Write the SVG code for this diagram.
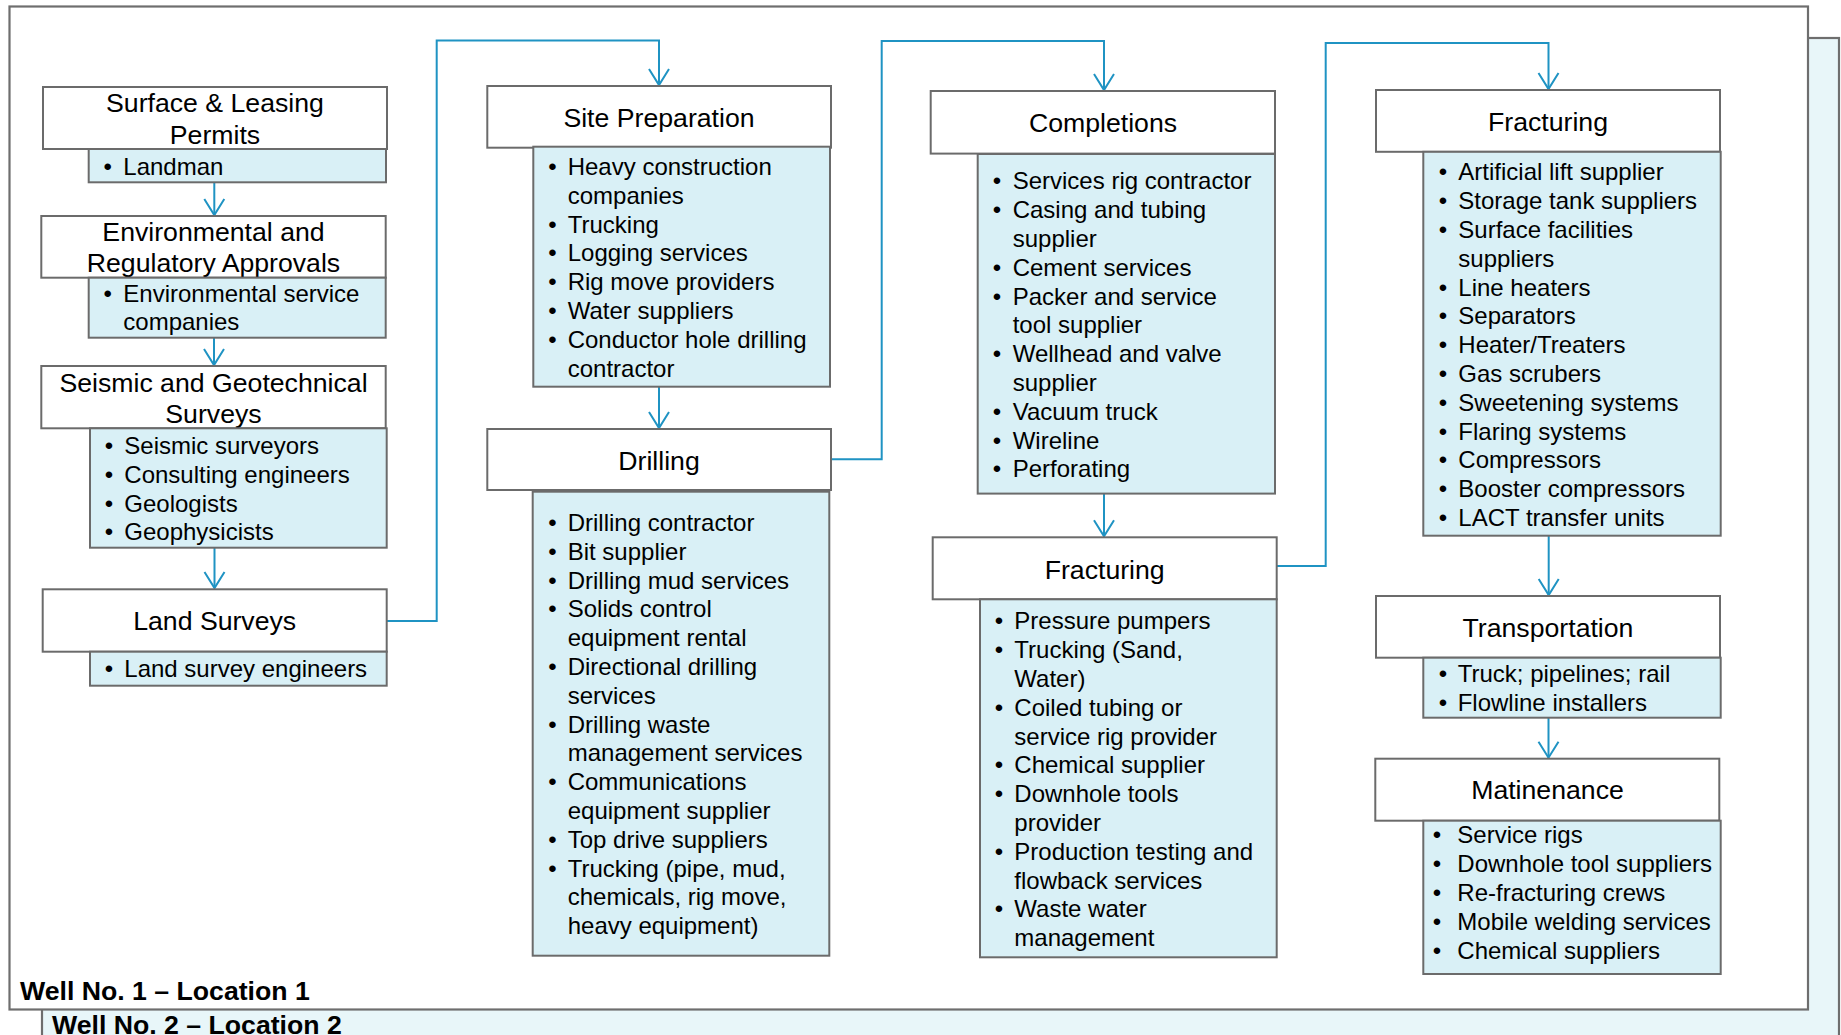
<svg xmlns="http://www.w3.org/2000/svg" width="1841" height="1035" viewBox="0 0 1841 1035">
<style>
.frame{stroke:#6e6e6e;stroke-width:2.2}
.title{fill:#ffffff;stroke:#6b6b6b;stroke-width:2}
.list{fill:#d9f0f6;stroke:#6b6b6b;stroke-width:2}
.tt{font-family:"Liberation Sans",Arial,sans-serif;font-size:26.67px;fill:#000;text-anchor:middle}
.bt{font-family:"Liberation Sans",Arial,sans-serif;font-size:24px;fill:#000}
.well{font-family:"Liberation Sans",Arial,sans-serif;font-size:26.67px;font-weight:bold;fill:#000}
.conn{fill:none;stroke:#1f93c3;stroke-width:2}
</style>
<defs>
<marker id="arr" viewBox="-18 -12 20 24" markerWidth="20" markerHeight="24" refX="0" refY="0" orient="auto" markerUnits="userSpaceOnUse">
<path d="M-16,-10 L0,0 L-16,10" fill="none" stroke="#1f93c3" stroke-width="2"/>
</marker>
</defs>
<g id="frames">
<rect class="frame" x="42" y="38" width="1797" height="1010" fill="#e8f6f9"/>
<rect class="frame" x="9.5" y="6.5" width="1798.5" height="1003" fill="#ffffff"/>
<text class="well" x="20" y="999.5">Well No. 1 – Location 1</text>
<text class="well" x="52" y="1034">Well No. 2 – Location 2</text>
</g>
<g id="connectors">
<path class="conn" marker-end="url(#arr)" d="M214.3,182.3 V215"/>
<path class="conn" marker-end="url(#arr)" d="M214,337.7 V365"/>
<path class="conn" marker-end="url(#arr)" d="M214.5,547.7 V588"/>
<path class="conn" marker-end="url(#arr)" d="M386.7,621 H436.7 V40.5 H659 V85"/>
<path class="conn" marker-end="url(#arr)" d="M659,386.7 V428"/>
<path class="conn" marker-end="url(#arr)" d="M831,459.3 H881.7 V41 H1104 V90"/>
<path class="conn" marker-end="url(#arr)" d="M1104,493.6 V536.3"/>
<path class="conn" marker-end="url(#arr)" d="M1276.7,566 H1325.7 V43 H1548.5 V89"/>
<path class="conn" marker-end="url(#arr)" d="M1548.7,535.7 V595"/>
<path class="conn" marker-end="url(#arr)" d="M1548.5,717.7 V757.7"/>
</g>
<g id="surface-permits">
<rect class="title" x="43" y="87" width="344" height="62"/>
<text class="tt" x="215" y="111.7">Surface &amp; Leasing</text>
<text class="tt" x="215" y="143.5">Permits</text>
<rect class="list" x="88.7" y="149" width="297.3" height="33.3"/>
<text class="bt" x="103.5" y="175">•</text><text class="bt" x="123.3" y="175">Landman</text>
</g>
<g id="environmental">
<rect class="title" x="41.3" y="216" width="344.4" height="61.7"/>
<text class="tt" x="213.5" y="240.7">Environmental and</text>
<text class="tt" x="213.5" y="271.7">Regulatory Approvals</text>
<rect class="list" x="88.7" y="277.7" width="297" height="60"/>
<text class="bt" x="103.5" y="301.5">•</text><text class="bt" x="123.3" y="301.5">Environmental service</text>
<text class="bt" x="123.3" y="330.3">companies</text>
</g>
<g id="seismic">
<rect class="title" x="41.3" y="366" width="344.4" height="62.3"/>
<text class="tt" x="213.5" y="391.7">Seismic and Geotechnical</text>
<text class="tt" x="213.5" y="423.3">Surveys</text>
<rect class="list" x="90" y="428.3" width="296.7" height="119.4"/>
<text class="bt" x="104.8" y="454">•</text><text class="bt" x="124.3" y="454">Seismic surveyors</text>
<text class="bt" x="104.8" y="482.8">•</text><text class="bt" x="124.3" y="482.8">Consulting engineers</text>
<text class="bt" x="104.8" y="511.6">•</text><text class="bt" x="124.3" y="511.6">Geologists</text>
<text class="bt" x="104.8" y="540.4">•</text><text class="bt" x="124.3" y="540.4">Geophysicists</text>
</g>
<g id="land-surveys">
<rect class="title" x="42.7" y="589.3" width="344" height="62.4"/>
<text class="tt" x="214.7" y="630">Land Surveys</text>
<rect class="list" x="90" y="651.7" width="296.7" height="34"/>
<text class="bt" x="104.8" y="677.3">•</text><text class="bt" x="124.3" y="677.3">Land survey engineers</text>
</g>
<g id="site-preparation">
<rect class="title" x="487.3" y="86" width="343.7" height="61.7"/>
<text class="tt" x="659" y="126.7">Site Preparation</text>
<rect class="list" x="533.3" y="146.7" width="296.7" height="240"/>
<text class="bt" x="548.2" y="175">•</text><text class="bt" x="567.7" y="175">Heavy construction</text>
<text class="bt" x="567.7" y="203.8">companies</text>
<text class="bt" x="548.2" y="232.6">•</text><text class="bt" x="567.7" y="232.6">Trucking</text>
<text class="bt" x="548.2" y="261.4">•</text><text class="bt" x="567.7" y="261.4">Logging services</text>
<text class="bt" x="548.2" y="290.2">•</text><text class="bt" x="567.7" y="290.2">Rig move providers</text>
<text class="bt" x="548.2" y="319">•</text><text class="bt" x="567.7" y="319">Water suppliers</text>
<text class="bt" x="548.2" y="347.8">•</text><text class="bt" x="567.7" y="347.8">Conductor hole drilling</text>
<text class="bt" x="567.7" y="376.6">contractor</text>
</g>
<g id="drilling">
<rect class="title" x="487.3" y="429" width="343.7" height="61"/>
<text class="tt" x="659" y="470">Drilling</text>
<rect class="list" x="532.7" y="491.7" width="296.6" height="464"/>
<text class="bt" x="548.2" y="531">•</text><text class="bt" x="567.7" y="531">Drilling contractor</text>
<text class="bt" x="548.2" y="559.8">•</text><text class="bt" x="567.7" y="559.8">Bit supplier</text>
<text class="bt" x="548.2" y="588.6">•</text><text class="bt" x="567.7" y="588.6">Drilling mud services</text>
<text class="bt" x="548.2" y="617.4">•</text><text class="bt" x="567.7" y="617.4">Solids control</text>
<text class="bt" x="567.7" y="646.2">equipment rental</text>
<text class="bt" x="548.2" y="675">•</text><text class="bt" x="567.7" y="675">Directional drilling</text>
<text class="bt" x="567.7" y="703.8">services</text>
<text class="bt" x="548.2" y="732.6">•</text><text class="bt" x="567.7" y="732.6">Drilling waste</text>
<text class="bt" x="567.7" y="761.4">management services</text>
<text class="bt" x="548.2" y="790.2">•</text><text class="bt" x="567.7" y="790.2">Communications</text>
<text class="bt" x="567.7" y="819">equipment supplier</text>
<text class="bt" x="548.2" y="847.8">•</text><text class="bt" x="567.7" y="847.8">Top drive suppliers</text>
<text class="bt" x="548.2" y="876.6">•</text><text class="bt" x="567.7" y="876.6">Trucking (pipe, mud,</text>
<text class="bt" x="567.7" y="905.4">chemicals, rig move,</text>
<text class="bt" x="567.7" y="934.2">heavy equipment)</text>
</g>
<g id="completions">
<rect class="title" x="930.7" y="91" width="344.3" height="62.6"/>
<text class="tt" x="1103" y="132">Completions</text>
<rect class="list" x="977.7" y="154" width="297.3" height="339.6"/>
<text class="bt" x="992.8" y="189.3">•</text><text class="bt" x="1012.7" y="189.3">Services rig contractor</text>
<text class="bt" x="992.8" y="218.1">•</text><text class="bt" x="1012.7" y="218.1">Casing and tubing</text>
<text class="bt" x="1012.7" y="246.9">supplier</text>
<text class="bt" x="992.8" y="275.7">•</text><text class="bt" x="1012.7" y="275.7">Cement services</text>
<text class="bt" x="992.8" y="304.5">•</text><text class="bt" x="1012.7" y="304.5">Packer and service</text>
<text class="bt" x="1012.7" y="333.3">tool supplier</text>
<text class="bt" x="992.8" y="362.1">•</text><text class="bt" x="1012.7" y="362.1">Wellhead and valve</text>
<text class="bt" x="1012.7" y="390.9">supplier</text>
<text class="bt" x="992.8" y="419.7">•</text><text class="bt" x="1012.7" y="419.7">Vacuum truck</text>
<text class="bt" x="992.8" y="448.5">•</text><text class="bt" x="1012.7" y="448.5">Wireline</text>
<text class="bt" x="992.8" y="477.3">•</text><text class="bt" x="1012.7" y="477.3">Perforating</text>
</g>
<g id="fracturing-1">
<rect class="title" x="932.7" y="537.3" width="344" height="62"/>
<text class="tt" x="1104.7" y="579.3">Fracturing</text>
<rect class="list" x="980" y="599.3" width="296.7" height="358"/>
<text class="bt" x="994.8" y="629.3">•</text><text class="bt" x="1014.3" y="629.3">Pressure pumpers</text>
<text class="bt" x="994.8" y="658.1">•</text><text class="bt" x="1014.3" y="658.1">Trucking (Sand,</text>
<text class="bt" x="1014.3" y="686.9">Water)</text>
<text class="bt" x="994.8" y="715.7">•</text><text class="bt" x="1014.3" y="715.7">Coiled tubing or</text>
<text class="bt" x="1014.3" y="744.5">service rig provider</text>
<text class="bt" x="994.8" y="773.3">•</text><text class="bt" x="1014.3" y="773.3">Chemical supplier</text>
<text class="bt" x="994.8" y="802.1">•</text><text class="bt" x="1014.3" y="802.1">Downhole tools</text>
<text class="bt" x="1014.3" y="830.9">provider</text>
<text class="bt" x="994.8" y="859.7">•</text><text class="bt" x="1014.3" y="859.7">Production testing and</text>
<text class="bt" x="1014.3" y="888.5">flowback services</text>
<text class="bt" x="994.8" y="917.3">•</text><text class="bt" x="1014.3" y="917.3">Waste water</text>
<text class="bt" x="1014.3" y="946.1">management</text>
</g>
<g id="fracturing-2">
<rect class="title" x="1376" y="90" width="344" height="61.8"/>
<text class="tt" x="1548" y="131.4">Fracturing</text>
<rect class="list" x="1423.3" y="151.8" width="297.4" height="383.9"/>
<text class="bt" x="1438.8" y="180.4">•</text><text class="bt" x="1458.3" y="180.4">Artificial lift supplier</text>
<text class="bt" x="1438.8" y="209.2">•</text><text class="bt" x="1458.3" y="209.2">Storage tank suppliers</text>
<text class="bt" x="1438.8" y="238">•</text><text class="bt" x="1458.3" y="238">Surface facilities</text>
<text class="bt" x="1458.3" y="266.8">suppliers</text>
<text class="bt" x="1438.8" y="295.6">•</text><text class="bt" x="1458.3" y="295.6">Line heaters</text>
<text class="bt" x="1438.8" y="324.4">•</text><text class="bt" x="1458.3" y="324.4">Separators</text>
<text class="bt" x="1438.8" y="353.2">•</text><text class="bt" x="1458.3" y="353.2">Heater/Treaters</text>
<text class="bt" x="1438.8" y="382">•</text><text class="bt" x="1458.3" y="382">Gas scrubers</text>
<text class="bt" x="1438.8" y="410.8">•</text><text class="bt" x="1458.3" y="410.8">Sweetening systems</text>
<text class="bt" x="1438.8" y="439.6">•</text><text class="bt" x="1458.3" y="439.6">Flaring systems</text>
<text class="bt" x="1438.8" y="468.4">•</text><text class="bt" x="1458.3" y="468.4">Compressors</text>
<text class="bt" x="1438.8" y="497.2">•</text><text class="bt" x="1458.3" y="497.2">Booster compressors</text>
<text class="bt" x="1438.8" y="526">•</text><text class="bt" x="1458.3" y="526">LACT transfer units</text>
</g>
<g id="transportation">
<rect class="title" x="1376" y="596" width="344" height="61.7"/>
<text class="tt" x="1548" y="636.7">Transportation</text>
<rect class="list" x="1423.3" y="657.7" width="297.4" height="60"/>
<text class="bt" x="1438.8" y="682.3">•</text><text class="bt" x="1457.7" y="682.3">Truck; pipelines; rail</text>
<text class="bt" x="1438.8" y="711">•</text><text class="bt" x="1457.7" y="711">Flowline installers</text>
</g>
<g id="maintenance">
<rect class="title" x="1375.3" y="758.7" width="344" height="62"/>
<text class="tt" x="1547.5" y="799.3">Matinenance</text>
<rect class="list" x="1423.3" y="820.7" width="297.4" height="153.3"/>
<text class="bt" x="1432.8" y="843.3">•</text><text class="bt" x="1457.3" y="843.3">Service rigs</text>
<text class="bt" x="1432.8" y="872.1">•</text><text class="bt" x="1457.3" y="872.1">Downhole tool suppliers</text>
<text class="bt" x="1432.8" y="900.9">•</text><text class="bt" x="1457.3" y="900.9">Re-fracturing crews</text>
<text class="bt" x="1432.8" y="929.7">•</text><text class="bt" x="1457.3" y="929.7">Mobile welding services</text>
<text class="bt" x="1432.8" y="958.5">•</text><text class="bt" x="1457.3" y="958.5">Chemical suppliers</text>
</g>
</svg>
